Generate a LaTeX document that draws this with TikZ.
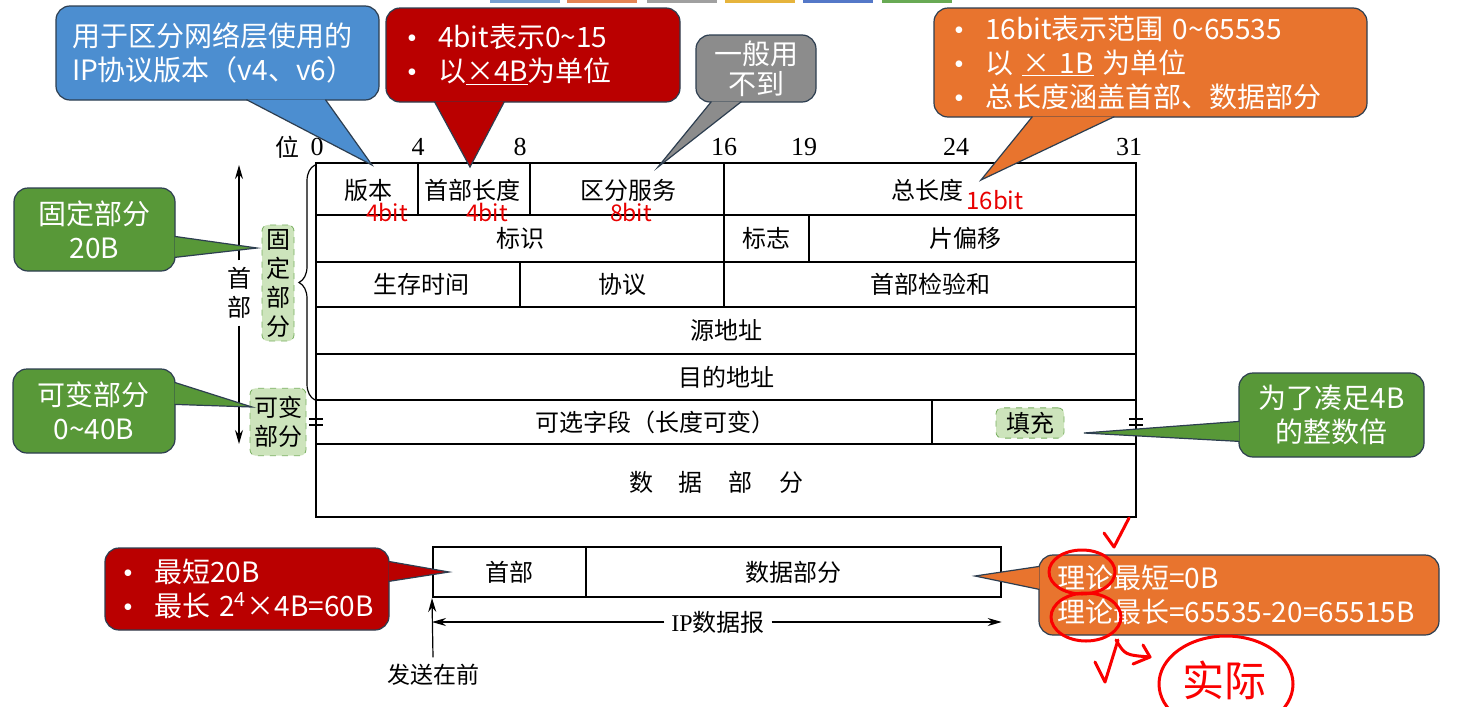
\documentclass[tikz,border=0pt]{standalone}
\usepackage{fontspec}
\setmainfont{Noto Sans CJK SC}
\newfontfamily\timesfont{Liberation Serif}
\usetikzlibrary{arrows.meta,decorations.pathreplacing}

\definecolor{callblue}{RGB}{76,142,208}
\definecolor{callred}{RGB}{186,0,0}
\definecolor{callgray}{RGB}{140,140,140}
\definecolor{callorange}{RGB}{232,116,46}
\definecolor{callgreen}{RGB}{88,152,56}
\definecolor{calledge}{RGB}{45,62,80}
\definecolor{tagfill}{RGB}{205,228,188}
\definecolor{tagline}{RGB}{120,175,95}
\definecolor{bitred}{RGB}{232,0,0}
\definecolor{inkred}{RGB}{250,0,0}
\definecolor{swblue}{RGB}{120,160,210}
\definecolor{sworange}{RGB}{228,132,84}
\definecolor{swgray}{RGB}{160,160,160}
\definecolor{swyellow}{RGB}{230,180,60}
\definecolor{swdblue}{RGB}{84,120,200}
\definecolor{swgreen}{RGB}{104,170,84}

\tikzset{
  callbox/.style={draw=calledge, line width=0.6pt, rounded corners=7pt, text=white,
    inner sep=0pt, font=\fontsize{14}{17}\selectfont},
  pointedge/.style={draw=calledge, line width=0.6pt},
  cell/.style={font=\fontsize{12}{14.5}\selectfont},
  bitno/.style={font=\timesfont\fontsize{13}{15}\selectfont},
  bitlen/.style={text=bitred, font=\fontsize{11.5}{13}\selectfont},
  tag/.style={draw=tagline, dashed, fill=tagfill, rounded corners=3pt, inner sep=2pt,
    align=center, font=\fontsize{12}{14.5}\selectfont},
  arr/.style={-{Stealth[length=7pt,width=4pt]}, line width=0.6pt},
  ink/.style={inkred, line width=1.5pt, line cap=round, line join=round},
}
\newcommand\pointer[4]{%
  \fill[#1] #2 -- #3 -- #4 -- cycle;
  \draw[pointedge] #2 -- #3 -- #4;}
\newcommand\bul{\makebox[15.5pt][l]{\timesfont\textbullet}}

\begin{document}
\begin{tikzpicture}[x=0.5pt,y=-0.5pt]
  \fill[white] (0,0) rectangle (1457,707);
  \useasboundingbox (0,0) rectangle (1457,707);

  \foreach \x/\c in {490/swblue,567/sworange,647/swgray,725/swyellow,803/swdblue,882/swgreen}
    \fill[\c] (\x,0) rectangle ++(70,3);

  % header table
  \draw[line width=1pt] (316,163) rectangle (1136,444);
  \draw[line width=0.8pt] (316,444) rectangle (1136,517);
  \foreach \y in {215,262,307,354}
    \draw[line width=0.6pt] (316,\y) -- (1136,\y);
  \draw[line width=1pt] (316,400) -- (1136,400);
  \draw[line width=0.6pt] (418,163) -- (418,215) (530,163) -- (530,215)
    (724,163) -- (724,307) (809,215) -- (809,262) (520,262) -- (520,307)
    (932,400) -- (932,444);
  \draw[line width=0.6pt] (309,419) -- (323,419) (309,425) -- (323,425)
    (1129,419) -- (1143,419) (1129,425) -- (1143,425);

  \node[cell] (bitword) at (287,147) {位};
  \foreach \b/\x in {0/317,4/418,8/520,16/724,19/804,24/956,31/1129}
    \node[bitno] (bit\b) at (\x,147) {\b};

  \node[cell] (f-ver) at (368,190) {版本};
  \node[cell] (f-hlen) at (472,190) {首部长度};
  \node[cell] (f-ds) at (628,190) {区分服务};
  \node[cell] (f-tlen) at (927,190) {总长度};
  \node[bitlen] (len-ver) at (387,212) {4bit};
  \node[bitlen] (len-hlen) at (487,212) {4bit};
  \node[bitlen] (len-ds) at (631,212) {8bit};
  \node[bitlen, font=\fontsize{12}{14}\selectfont] (len-tlen) at (995,200) {16bit};
  \node[cell] (f-id) at (520,238) {标识};
  \node[cell] (f-flag) at (766,238) {标志};
  \node[cell] (f-frag) at (965,238) {片偏移};
  \node[cell] (f-ttl) at (421,284) {生存时间};
  \node[cell] (f-proto) at (622,284) {协议};
  \node[cell] (f-cksum) at (930,284) {首部检验和};
  \node[cell] (f-src) at (726,330) {源地址};
  \node[cell] (f-dst) at (726,377) {目的地址};
  \node[cell] (f-opt) at (655,422) {可选字段（长度可变）};
  \node[tag, inner xsep=5pt] (f-pad) at (1030,423) {填充};
  \node[cell] (f-data) at (716,482) {数\hspace{13pt}据\hspace{13pt}部\hspace{13pt}分};

  % header side marks
  \draw[line width=0.6pt, decorate, decoration={brace, amplitude=8pt}] (315,400) -- (315,165);
  \node[cell, align=center] (hdrlabel) at (239,293) {首\\部};
  \coordinate (hdrtop) at (239,165);
  \coordinate (hdrbot) at (239,444);
  \draw[arr] (hdrlabel.north) -- (hdrtop);
  \draw[arr] (hdrlabel.south) -- (hdrbot);
  \node[tag] (fixtag) at (278,283) {固\\定\\部\\分};
  \node[tag, inner ysep=4pt] (vartag) at (278,422) {可变\\部分};

  % datagram
  \node[cell, draw, line width=1pt, minimum width=76.5pt, minimum height=25pt] (dg-hdr) at (509.5,572) {首部};
  \node[cell, draw, line width=0.7pt, minimum width=207.5pt, minimum height=25pt] (dg-data) at (793.5,572) {数据部分};
  \node[cell] (dglabel) at (718,622) {{\timesfont IP}数据报};
  \draw[arr] (dglabel.west) -- (dglabel.west -| dg-hdr.west);
  \draw[arr] (dglabel.east) -- (dglabel.east -| dg-data.east);
  \node[cell, font=\fontsize{11.5}{14}\selectfont] (sendfirst) at (433,675) {发送在前};
  \draw[arr] (sendfirst.north) -- (dg-hdr.south west);

  % callouts
  \coordinate (tipver) at (372,165);
  \coordinate (tiphlen) at (470,167);
  \coordinate (tipds) at (658,167);
  \coordinate (tiptlen) at (981,180);
  \coordinate (tipfix) at (257,248);
  \coordinate (tipvar) at (252,407);
  \coordinate (tippad) at (1084,433);
  \coordinate (tiphdr) at (449,572);
  \coordinate (tipdata) at (975,576);

  \node[callbox, fill=callblue, minimum width=161.5pt, minimum height=47pt, text width=145.5pt,
    align=left] (verbox) at (217.5,53) {用于区分网络层使用的\\IP协议版本（v4、v6）};
  \pointer{callblue}{([shift={(95.5pt,0.5pt)}]verbox.south west)}{(tipver)}{([shift={(135pt,0.5pt)}]verbox.south west)}

  \node[callbox, fill=callred, minimum width=147pt, minimum height=47pt, text width=126pt,
    align=left] (hlenbox) at (533,55) {\bul 4bit表示0\textasciitilde15\\\bul 以\underline{×4B}为单位};
  \pointer{callred}{([shift={(24.5pt,0.5pt)}]hlenbox.south west)}{(tiphlen)}{([shift={(59.5pt,0.5pt)}]hlenbox.south west)}

  \node[callbox, fill=callgray, minimum width=60pt, minimum height=33.5pt, align=center,
    font=\fontsize{14}{15}\selectfont] (dsbox) at (756,68.5) {一般用\\不到};
  \pointer{callgray}{([shift={(8pt,0.5pt)}]dsbox.south west)}{(tipds)}{([shift={(23pt,0.5pt)}]dsbox.south west)}

  \node[callbox, fill=callorange, minimum width=216.5pt, minimum height=54.5pt, text width=196.5pt,
    align=left] (tlenbox) at (1150.5,62.5)
    {\bul 16bit表示范围 0\textasciitilde65535\\\bul 以 \underline{× 1B} 为单位\\\bul 总长度涵盖首部、数据部分};
  \pointer{callorange}{([shift={(49.5pt,0.5pt)}]tlenbox.south west)}{(tiptlen)}{([shift={(90.5pt,0.5pt)}]tlenbox.south west)}

  \node[callbox, fill=callgreen, minimum width=80.5pt, minimum height=41.5pt, align=center]
    (fixbox) at (94.5,229.5) {固定部分\\20B};
  \pointer{callgreen}{([shift={(-0.5pt,-24.5pt)}]fixbox.north east)}{(tipfix)}{([shift={(-0.5pt,-35pt)}]fixbox.north east)}

  \node[callbox, fill=callgreen, minimum width=81pt, minimum height=42pt, align=center]
    (varbox) at (94,411) {可变部分\\0\textasciitilde40B};
  \pointer{callgreen}{([shift={(-0.5pt,-7pt)}]varbox.north east)}{(tipvar)}{([shift={(-0.5pt,-18pt)}]varbox.north east)}

  \node[callbox, fill=callgreen, minimum width=92.5pt, minimum height=42pt, align=center]
    (padbox) at (1331.5,415) {为了凑足4B\\的整数倍};
  \pointer{callgreen}{([shift={(0.5pt,-24.5pt)}]padbox.north west)}{(tippad)}{([shift={(0.5pt,-34.5pt)}]padbox.north west)}

  \node[callbox, fill=callred, minimum width=142pt, minimum height=41pt, text width=124pt,
    align=left] (hdrbox) at (247,589) {\bul 最短20B\\\bul \mbox{最长 2\textsuperscript{4}×4B=60B}};
  \pointer{callred}{([shift={(-0.5pt,-7pt)}]hdrbox.north east)}{(tiphdr)}{([shift={(-0.5pt,-17pt)}]hdrbox.north east)}

  \node[callbox, fill=callorange, minimum width=200pt, minimum height=40pt, text width=182pt,
    align=left] (databox) at (1239,595) {理论最短=0B\\理论最长=65535-20=65515B};
  \pointer{callorange}{([shift={(0.5pt,-6pt)}]databox.north west)}{(tipdata)}{([shift={(0.5pt,-17.5pt)}]databox.north west)}

  % red pen
  \draw[ink] (1104,533) -- (1114,547) -- (1129,518);
  \draw[ink] (1082,572) ellipse [x radius=16.5pt, y radius=11pt];
  \draw[ink] (1086,617) ellipse [x radius=17.5pt, y radius=12pt];
  \draw[ink] (1095,662) -- (1105,682) -- (1118,640);
  \draw[ink] (1116,640) .. controls (1125,655) .. (1150,657);
  \draw[ink] (1143,645) -- (1150,657) -- (1133,664);
  \draw[ink] (1226,684) ellipse [x radius=33.5pt, y radius=24pt];
  \node[text=inkred, font=\fontsize{21}{23}\selectfont] (actual) at (1224,680) {实际};
\end{tikzpicture}
\end{document}
